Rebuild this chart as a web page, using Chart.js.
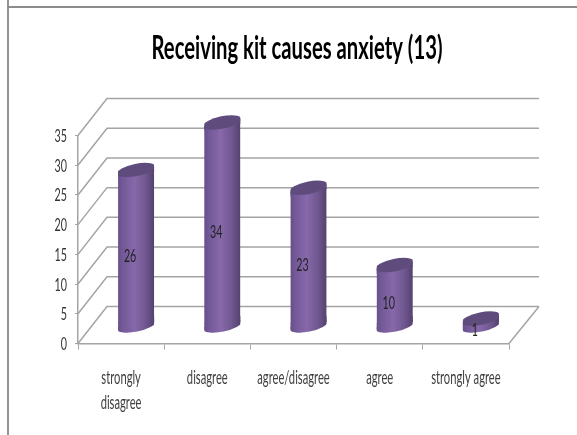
<!DOCTYPE html>
<html>
<head>
<meta charset="utf-8">
<title>Receiving kit causes anxiety</title>
<script src="https://cdn.jsdelivr.net/npm/chart.js@4"></script>
<style>
    html, body { margin: 0; background: #fff; overflow: hidden; }
    canvas { display: block; }
    .frame-left { position: absolute; left: 7px; top: 0; width: 2px; height: 435px; background: #949494; }
    .frame-top { position: absolute; left: 7px; top: 6px; width: 570px; height: 2px; background: #8c8c8c; }
</style>
</head>
<body>
<canvas id="chartKit" width="577" height="435"></canvas>
<div class="frame-left"></div>
<div class="frame-top"></div>
<script>
const chartTitle = "Receiving kit causes anxiety (13)";
const categories = [["strongly", "disagree"], "disagree", "agree/disagree", "agree", "strongly agree"];
const answers = [26, 34, 23, 10, 1];

const gridColor = "#a4a4a4";
// how far the back wall sits behind the front axes
const depthX = 29, depthY = 37;
const wallRight = 539;
// cylinders stand half way into the floor
const barShiftX = 15, barShiftY = 19;
const halfBar = 18, capTilt = 3.65;

function barGradient(ctx, x) {
    // scales can still be empty the first time the options resolve
    if (!Number.isFinite(x)) return "#745a99";
    const g = ctx.createLinearGradient(x - halfBar, 0, x + halfBar, 0);
    g.addColorStop(0, "#67508a");
    g.addColorStop(0.15, "#745a99");
    g.addColorStop(0.45, "#8768aa");
    g.addColorStop(0.75, "#715891");
    g.addColorStop(1, "#54426f");
    return g;
}

// tilted cap of a cylinder, cut off flush with the bar sides
function ellipse(ctx, x, y, fill) {
    ctx.save();
    ctx.beginPath();
    ctx.rect(x - halfBar, y - 20, halfBar * 2, 40);
    ctx.clip();
    ctx.beginPath();
    ctx.ellipse(x, y, 19.5, 6.2, -0.2, 0, Math.PI * 2);
    ctx.fillStyle = fill;
    ctx.fill();
    ctx.restore();
}

// slanted strip that joins a cap to the straight sides of the bar
function sidePath(ctx, x, top, bottom) {
    ctx.moveTo(x - halfBar, top + capTilt);
    ctx.lineTo(x + halfBar, top - capTilt);
    ctx.lineTo(x + halfBar, bottom - capTilt);
    ctx.lineTo(x - halfBar, bottom + capTilt);
    ctx.closePath();
}

// the labels are tall and condensed, so squeeze each one sideways
function squeezed(ctx, text, x, y, factor) {
    ctx.fillText(text, x, y, ctx.measureText(text).width * factor);
}

const cylinders = {
    id: "cylinders",
    beforeDatasetsDraw(chart) {
        const { ctx, scales: { x, y } } = chart;
        ctx.save();
        ctx.strokeStyle = gridColor;
        ctx.lineWidth = 1.5;
        y.ticks.forEach(tick => {
            const py = y.getPixelForValue(tick.value);
            ctx.beginPath();
            ctx.moveTo(x.left, py);
            ctx.lineTo(x.left + depthX, py - depthY);
            ctx.lineTo(wallRight, py - depthY);
            ctx.stroke();
        });
        ctx.beginPath();
        ctx.moveTo(x.right, y.bottom);
        ctx.lineTo(wallRight, y.bottom - depthY);
        ctx.stroke();
        ctx.restore();

        ctx.save();
        ctx.translate(barShiftX, -barShiftY);
        answers.forEach((v, i) => {
            const px = x.getPixelForValue(i);
            const base = y.getPixelForValue(0) + 1;
            ellipse(ctx, px, base, barGradient(ctx, px));
            ctx.beginPath();
            sidePath(ctx, px, base - 6, base);
            ctx.fillStyle = barGradient(ctx, px);
            ctx.fill();
        });

        // keep the square bar corners from poking out past the caps
        ctx.save();
        ctx.beginPath();
        answers.forEach((v, i) => {
            sidePath(ctx, x.getPixelForValue(i), y.getPixelForValue(v), y.getPixelForValue(0) + 1);
        });
        ctx.clip();
    },
    afterDatasetsDraw(chart) {
        const { ctx, scales: { x, y } } = chart;
        ctx.restore();
        answers.forEach((v, i) => {
            const px = x.getPixelForValue(i);
            const top = y.getPixelForValue(v);
            ctx.beginPath();
            sidePath(ctx, px, top, top + 5);
            ctx.fillStyle = barGradient(ctx, px);
            ctx.fill();
            ellipse(ctx, px, top, "#5f4b7c");
        });
        ctx.restore();

        ctx.save();
        ctx.textBaseline = "middle";

        ctx.textAlign = "right";
        ctx.fillStyle = "#333";
        ctx.font = "17px Lato";
        y.ticks.forEach(tick => squeezed(ctx, tick.label, 67, y.getPixelForValue(tick.value) + 1, 0.63));

        ctx.textAlign = "center";
        // values sit on the cylinders, a little left of centre
        ctx.fillStyle = "#222";
        answers.forEach((v, i) => {
            const px = x.getPixelForValue(i) + barShiftX - 6;
            const py = (y.getPixelForValue(v) + y.getPixelForValue(0)) / 2 - barShiftY + 9;
            squeezed(ctx, String(v), px, py, 0.63);
        });

        ctx.textBaseline = "alphabetic";
        ctx.fillStyle = "#404040";
        ctx.font = "20px Lato";
        categories.forEach((label, i) => {
            const px = x.getPixelForValue(i);
            [].concat(label).forEach((line, n) => squeezed(ctx, line, px, 384 + n * 24.5, 0.56));
        });

        ctx.fillStyle = "#000";
        ctx.font = "bold 32px Lato";
        ctx.fillText(chartTitle, 297, 59, 291);
        ctx.restore();
    }
};

new Chart(document.getElementById("chartKit"), {
    type: "bar",
    data: {
        labels: categories,
        datasets: [{
            data: answers,
            barThickness: 36,
            borderWidth: 0,
            backgroundColor: c => barGradient(c.chart.ctx, c.chart.scales.x.getPixelForValue(c.dataIndex))
        }]
    },
    options: {
        responsive: false,
        animation: false,
        layout: { padding: { top: 135.5, right: 68, left: 0, bottom: 0 } },
        plugins: { legend: { display: false }, title: { display: false }, tooltip: { enabled: false } },
        scales: {
            x: {
                afterFit: s => { s.height = 91.5; },
                border: { color: gridColor, width: 1.5 },
                grid: { offset: true, drawOnChartArea: false, color: gridColor, lineWidth: 1, tickLength: 6 },
                ticks: { display: false }
            },
            y: {
                min: 0,
                max: 35,
                afterFit: s => { s.width = 78; },
                border: { color: gridColor, width: 1.5 },
                grid: { drawOnChartArea: false, color: gridColor, tickLength: 3 },
                ticks: { stepSize: 5, display: false }
            }
        }
    },
    plugins: [cylinders]
});
</script>
</body>
</html>
